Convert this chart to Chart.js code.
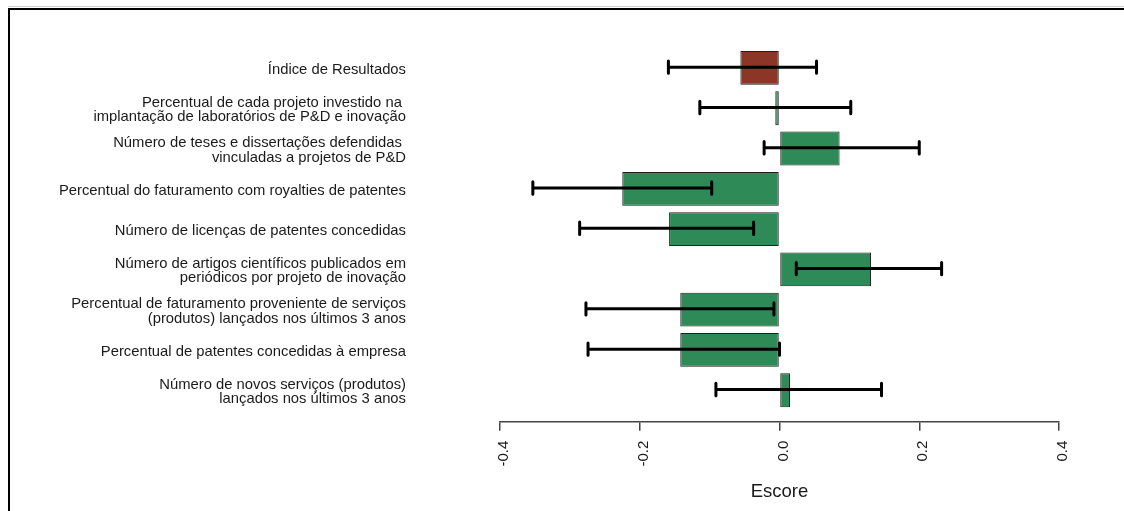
<!DOCTYPE html>
<html>
<head>
<meta charset="utf-8">
<script src="https://cdn.jsdelivr.net/npm/chart.js@4/dist/chart.umd.min.js"></script>
<style>
  html, body { margin: 0; padding: 0; background: #fff; }
  #wrap { position: relative; width: 1124px; height: 511px; overflow: hidden; }
  #frame { position: absolute; left: 8px; top: 8px; right: -10px; bottom: -10px;
           border-left: 2px solid #000; border-top: 2px solid #000; }
  #frameShade { position: absolute; left: 8px; top: 6px; right: 0; height: 1px; background: #cfcfcf; }
  canvas { position: absolute; left: 0; top: 0; }
</style>
</head>
<body>
<div id="wrap">
  <div id="frameShade"></div>
  <div id="frame"></div>
  <canvas id="c" width="1124" height="511"></canvas>
</div>
<script>
// Indicators, top to bottom
const categories = [
  "Índice de Resultados",
  ["Percentual de cada projeto investido na ", "implantação de laboratórios de P&D e inovação"],
  ["Número de teses e dissertações defendidas ", "vinculadas a projetos de P&D"],
  "Percentual do faturamento com royalties de patentes",
  "Número de licenças de patentes concedidas",
  ["Número de artigos científicos publicados em", "periódicos por projeto de inovação"],
  ["Percentual de faturamento proveniente de serviços", "(produtos) lançados nos últimos 3 anos"],
  "Percentual de patentes concedidas à empresa",
  ["Número de novos serviços (produtos)", "lançados nos últimos 3 anos"]
];

// Score of each indicator
const scores = [-0.056, -0.006, 0.086, -0.225, -0.158, 0.131, -0.142, -0.142, 0.015];

// Interval limits around each score
const lower = [-0.159, -0.114, -0.022, -0.353, -0.286, 0.024, -0.277, -0.274, -0.091];
const upper = [0.053, 0.102, 0.200, -0.097, -0.037, 0.232, -0.008, 0.000, 0.146];

// Bar colours: the summary index stands out from the individual indicators
const barColors = ["#8B3626", "#2E8B57", "#2E8B57", "#2E8B57", "#2E8B57", "#2E8B57", "#2E8B57", "#2E8B57", "#2E8B57"];

// Score axis ticks
const xTicks = [-0.4, -0.2, 0.0, 0.2, 0.4];

const FONT = "'Liberation Sans', Arial, Helvetica, sans-serif";

// Draws the interval whiskers using the chart's own scales
const errorBars = {
  id: 'errorBars',
  afterDatasetsDraw(chart) {
    const { ctx, scales: { x, y } } = chart;
    ctx.save();
    ctx.strokeStyle = '#000';
    ctx.lineWidth = 3;
    scores.forEach((_, i) => {
      const py = y.getPixelForValue(i) - 0.8;
      const x0 = x.getPixelForValue(lower[i]);
      const x1 = x.getPixelForValue(upper[i]);
      ctx.lineCap = 'butt';
      ctx.beginPath();
      ctx.moveTo(x0, py);
      ctx.lineTo(x1, py);
      ctx.stroke();
      ctx.lineCap = 'round';
      ctx.beginPath();
      ctx.moveTo(x0, py - 6.2); ctx.lineTo(x0, py + 6.2);
      ctx.moveTo(x1, py - 6.2); ctx.lineTo(x1, py + 6.2);
      ctx.stroke();
    });
    ctx.restore();
  }
};

new Chart(document.getElementById('c'), {
  type: 'bar',
  data: {
    datasets: [{
      data: scores.map((v, i) => ({ x: v, y: i })),
      backgroundColor: barColors,
      borderColor: '#1e1e1e',
      borderWidth: 1,
      borderSkipped: false,
      categoryPercentage: 1.0,
      barPercentage: 0.84
    }]
  },
  options: {
    indexAxis: 'y',
    responsive: false,
    animation: false,
    events: [],
    layout: { padding: { top: 47.8, right: 65, bottom: 0, left: 0 } },
    plugins: { legend: { display: false }, tooltip: { enabled: false }, title: { display: false } },
    scales: {
      x: {
        type: 'linear',
        position: 'bottom',
        min: xTicks[0],
        max: xTicks[xTicks.length - 1],
        afterBuildTicks: (s) => { s.ticks = xTicks.map(v => ({ value: v })); },
        afterFit: (s) => { s.height = 511 - 421.7; s.paddingLeft = 0; s.paddingRight = 0; },
        border: { display: true, color: '#444', width: 1.5 },
        grid: { drawOnChartArea: false, drawTicks: true, tickLength: 9, color: '#444', lineWidth: 1.5 },
        ticks: {
          autoSkip: false,
          minRotation: 90, maxRotation: 90,
          padding: 10,
          labelOffset: 4,
          color: '#1a1a1a',
          font: { family: FONT, size: 15 },
          callback: (v) => Number(v).toFixed(1)
        },
        title: {
          display: true,
          text: 'Escore',
          color: '#1a1a1a',
          font: { family: FONT, size: 18.5 },
          padding: { top: 0, bottom: 8 }
        }
      },
      y: {
        type: 'linear',
        reverse: true,
        offset: false,
        min: -0.5,
        max: 8.781,
        afterBuildTicks: (s) => { s.ticks = categories.map((_, i) => ({ value: i })); },
        afterFit: (s) => { s.width = 500; s.paddingTop = 0; s.paddingBottom = 0; },
        border: { display: false },
        grid: { display: false, drawTicks: false, offset: false },
        ticks: {
          autoSkip: false,
          padding: 94,
          labelOffset: 1.8,
          color: '#1a1a1a',
          font: { family: FONT, size: 14.8, lineHeight: 0.97 },
          callback: (v) => categories[v]
        }
      }
    }
  },
  plugins: [errorBars]
});
</script>
</body>
</html>
